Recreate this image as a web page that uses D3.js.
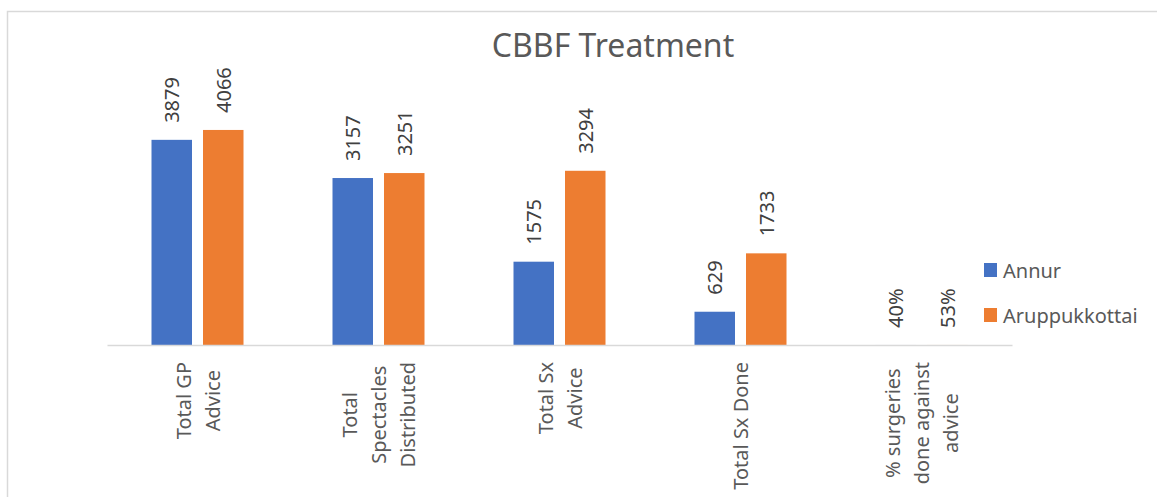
<!DOCTYPE html>
<html>
<head>
<meta charset="utf-8">
<script src="https://cdn.jsdelivr.net/npm/d3@7"></script>
<style>
  html, body { margin: 0; padding: 0; background: #fff; }
  svg { display: block; font-family: "Noto Sans", sans-serif; }
</style>
</head>
<body>
<script>
// chart data
var categories = ['Total GP Advice', 'Total Spectacles Distributed', 'Total Sx Advice', 'Total Sx Done', '% surgeries done against advice'];
var categoryLines = [['Total GP', 'Advice'], ['Total', 'Spectacles', 'Distributed'], ['Total Sx', 'Advice'], ['Total Sx Done'], ['% surgeries', 'done against', 'advice']];
var seriesNames = ['Annur', 'Aruppukkottai'];
var annur = [3879, 3157, 1575, 629, 0.40];
var aruppukkottai = [4066, 3251, 3294, 1733, 0.53];
var seriesColors = ['#4472C4', '#ED7D31'];

var width = 1157, height = 497;
var axisY = 345;

var svg = d3.select('body').append('svg')
	.attr('width', width)
	.attr('height', height);

// chart area border
svg.append('rect')
	.attr('x', 7.5)
	.attr('y', 11.5)
	.attr('width', 1250)
	.attr('height', 600)
	.attr('fill', 'none')
	.attr('stroke', '#d9d9d9')
	.attr('stroke-width', 1.5);

svg.append('text')
	.attr('x', 613)
	.attr('y', 57)
	.attr('text-anchor', 'middle')
	.attr('font-size', 32)
	.attr('fill', '#595959')
	.text('CBBF Treatment');

var x = d3.scaleBand()
	.domain(categories)
	.range([107, 1012]);

var bw = x.bandwidth();
var xInner = d3.scaleBand()
	.domain(seriesNames)
	.range([bw / 2 - 46, bw / 2 + 46])
	.paddingInner(0.2136);

var y = d3.scaleLinear()
	.domain([0, 4500])
	.range([axisY, 107]);

var rows = categories.map(function(c, i){
	return { cat: c, values: [annur[i], aruppukkottai[i]] };
});

var fmt = function(v){ return v < 1 ? d3.format('.0%')(v) : d3.format('d')(v); };

var groups = svg.append('g').attr('id', 'bars')
	.selectAll('g')
	.data(rows)
	.join('g')
	.attr('transform', function(d){ return 'translate(' + x(d.cat) + ',0)'; });

groups.selectAll('rect')
	.data(function(d){ return d.values.map(function(v, j){ return { name: seriesNames[j], v: v, j: j }; }); })
	.join('rect')
	.attr('x', function(d){ return xInner(d.name); })
	.attr('y', function(d){ return y(d.v); })
	.attr('width', xInner.bandwidth())
	.attr('height', function(d){ return axisY - y(d.v); })
	.attr('fill', function(d){ return seriesColors[d.j]; });

// rotated value labels
groups.selectAll('text.val')
	.data(function(d){ return d.values.map(function(v, j){ return { name: seriesNames[j], v: v }; }); })
	.join('text')
	.attr('class', 'val')
	.attr('transform', function(d){
		return 'translate(' + (xInner(d.name) + xInner.bandwidth() / 2) + ',' + (y(d.v) - 17) + ') rotate(-90)';
	})
	.attr('dominant-baseline', 'central')
	.attr('font-size', 20)
	.attr('fill', '#404040')
	.text(function(d){ return fmt(d.v); });

// category axis line
var xAxis = svg.append('g')
	.attr('transform', 'translate(0,' + axisY + ')')
	.call(d3.axisBottom(x).tickSize(0).tickSizeOuter(0).tickFormat(''));
xAxis.select('.domain')
	.attr('stroke', '#d9d9d9')
	.attr('stroke-width', 1.5);

// wrapped, rotated category labels
categories.forEach(function(c, i){
	var g = svg.append('g')
		.attr('transform', 'translate(' + (x(c) + bw / 2) + ',362) rotate(-90)');
	var lines = categoryLines[i];
	var texts = lines.map(function(line, k){
		return g.append('text')
			.attr('y', (k - (lines.length - 1) / 2) * 29)
			.attr('dominant-baseline', 'central')
			.attr('text-anchor', 'middle')
			.attr('font-size', 20)
			.attr('fill', '#595959')
			.text(line);
	});
	var maxLen = d3.max(texts, function(t){ return t.node().getComputedTextLength(); });
	texts.forEach(function(t){ t.attr('x', -maxLen / 2); });
});

// legend
var legend = svg.append('g')
	.selectAll('g')
	.data(seriesNames)
	.join('g')
	.attr('transform', function(d, i){ return 'translate(984,' + (263 + i * 45) + ')'; });

legend.append('rect')
	.attr('width', 13)
	.attr('height', 14)
	.attr('fill', function(d, i){ return seriesColors[i]; });

legend.append('text')
	.attr('x', 19)
	.attr('y', 7)
	.attr('dominant-baseline', 'central')
	.attr('font-size', 20)
	.attr('fill', '#595959')
	.text(function(d){ return d; });
</script>
</body>
</html>
